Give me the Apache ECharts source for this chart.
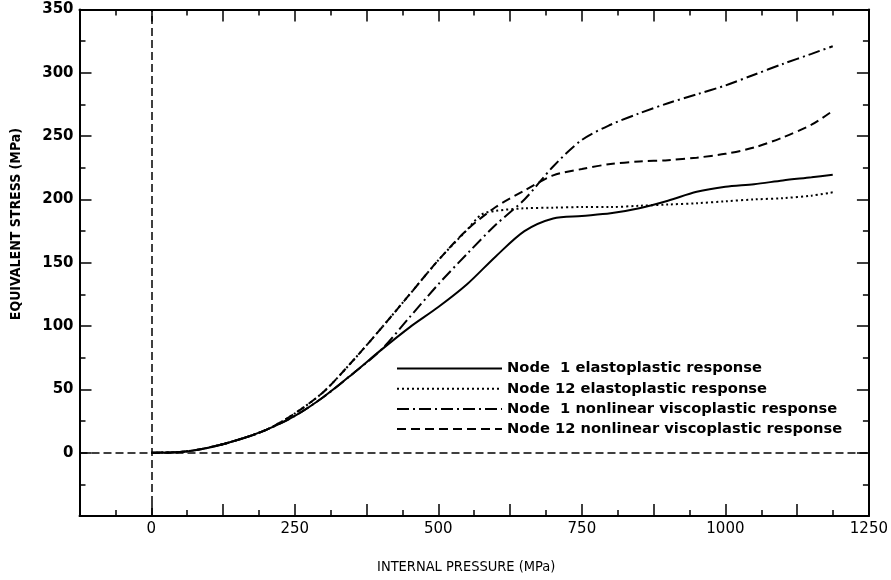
<!DOCTYPE html>
<html>
<head>
<meta charset="utf-8">
<script src="https://cdn.jsdelivr.net/npm/echarts@6/dist/echarts.min.js"></script>
<style>
html,body{margin:0;padding:0;background:#fff;}
#chart{width:891px;height:580px;}
</style>
</head>
<body>
<div id="chart"></div>
<script>
// Data: [internal pressure (MPa), equivalent stress (MPa)]
const seriesNames = [
  'Node  1 elastoplastic response',
  'Node 12 elastoplastic response',
  'Node  1 nonlinear viscoplastic response',
  'Node 12 nonlinear viscoplastic response'
];
const node1Elasto = [[0,0],[50,0.5],[100,4],[150,10],[200,18],[250,29],[300,44],[350,62],[400,81],[450,99],[500,115],[550,133],[600,155],[650,175],[700,185],[750,187],[800,189],[850,193],[900,199],[950,206],[1000,210],[1050,212],[1100,215],[1150,217.5],[1187,219.5]];
const node12Elasto = [[0,0],[50,0.5],[100,4],[150,10],[200,18],[250,31],[300,48],[350,72],[400,98],[450,125],[500,152],[550,176],[575,188],[600,191],[650,193],[700,193.5],[750,194],[800,194],[850,195],[900,196],[950,197],[1000,198.5],[1050,200],[1100,201],[1150,203],[1187,205.6]];
const node1Visco = [[0,0],[50,0.5],[100,4],[150,10],[200,18],[250,29],[300,44],[350,62],[400,81],[450,107],[500,133],[550,157],[600,180],[650,200],[700,226],[750,247],[800,259],[850,268],[900,276],[950,283],[1000,290],[1050,298.5],[1100,307],[1150,315],[1187,321]];
const node12Visco = [[0,0],[50,0.5],[100,4],[150,10],[200,18],[250,31],[300,48],[350,72],[400,98],[450,125],[500,152],[550,176],[600,194],[650,207],[700,219],[750,224],[800,228],[850,230],[900,231],[950,233],[1000,236],[1050,241],[1100,249],[1150,259],[1187,270]];
const xMin = -125, xMax = 1250, xStep = 125, xLabelStep = 250;
const yMin = -50, yMax = 350, yStep = 50;
const xTitle = 'INTERNAL PRESSURE (MPa)';
const yTitle = 'EQUIVALENT STRESS (MPa)';

const chart = echarts.init(document.getElementById('chart'), null, {renderer:'canvas'});
const axisLineStyle = {color:'#000', width:2};
const tickCommon = {show:true, inside:true, length:12, lineStyle:{color:'#000', width:1.5}};
const minorCommon = {show:true, splitNumber:2, length:6, lineStyle:{color:'#000', width:1.5}};
const narrowFont = '"DejaVu Sans Condensed", "Liberation Sans", sans-serif';

function xAxisDef(pos, labels){
  return {
    type:'value', min:xMin, max:xMax, interval:xStep, position:pos,
    axisLine:{show:true, onZero:false, lineStyle:axisLineStyle},
    axisTick:tickCommon, minorTick:minorCommon, splitLine:{show:false},
    axisLabel:{show:labels, margin:6, color:'#000', fontFamily:'DejaVu Sans', fontSize:15,
      formatter:v => (v >= 0 && v % xLabelStep === 0) ? String(v) : ''},
    name: labels ? xTitle : '', nameLocation:'middle', nameGap:44,
    nameTextStyle:{color:'#000', fontFamily:narrowFont, fontSize:14.5, padding:[0,16,0,0]}
  };
}
function yAxisDef(pos, labels){
  return {
    type:'value', min:yMin, max:yMax, interval:yStep, position:pos,
    axisLine:{show:true, onZero:false, lineStyle:axisLineStyle},
    axisTick:tickCommon, minorTick:minorCommon, splitLine:{show:false},
    axisLabel:{show:labels, margin:6, color:'#000', fontFamily:'DejaVu Sans', fontWeight:'bold', fontSize:15,
      formatter:v => (v >= 0) ? String(v) : ''}
  };
}
function lineSeries(name, data, type){
  return {
    name:name, type:'line', data:data, showSymbol:false, symbol:'none', smooth:0.3,
    xAxisIndex:0, yAxisIndex:0,
    lineStyle:{color:'#000', width:2, type:type}, itemStyle:{color:'#000'}
  };
}
const series = [
  lineSeries(seriesNames[0], node1Elasto, 'solid'),
  lineSeries(seriesNames[1], node12Elasto, [2,3]),
  lineSeries(seriesNames[2], node1Visco, [12,4,2,4]),
  lineSeries(seriesNames[3], node12Visco, [9,5])
];
series[0].markLine = {
  symbol:'none', silent:true, animation:false, label:{show:false},
  lineStyle:{color:'#000', width:1.5, type:[8,4]},
  data:[{yAxis:0},{xAxis:0}]
};

chart.setOption({
  animation:false,
  backgroundColor:'#fff',
  grid:{left:79.5, right:21, top:9.5, bottom:63, containLabel:false},
  xAxis:[xAxisDef('bottom', true), xAxisDef('top', false)],
  yAxis:[yAxisDef('left', true), yAxisDef('right', false)],
  legend:{
    orient:'vertical', left:391, top:356, itemWidth:105, itemHeight:14, itemGap:5.2,
    data:seriesNames,
    itemStyle:{opacity:0},
    textStyle:{color:'#000', fontFamily:'DejaVu Sans', fontWeight:'bold', fontSize:14.7},
    inactiveColor:'#000'
  },
  graphic:[{
    type:'text', left:9, top:128, rotation:Math.PI/2,
    style:{text:yTitle, fill:'#000', font:'bold 14px ' + narrowFont}
  }],
  series:series
});
</script>
</body>
</html>
